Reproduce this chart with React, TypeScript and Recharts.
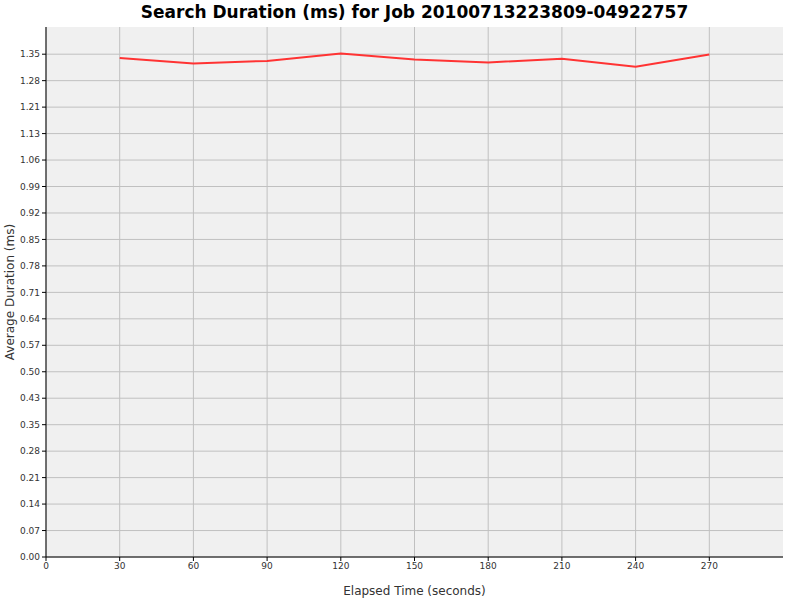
import React from "react";
import { LineChart, Line, XAxis, YAxis, CartesianGrid, Label } from "recharts";

const title = "Search Duration (ms) for Job 20100713223809-04922757";

// elapsed seconds and average search duration (ms)
const elapsed = [30, 60, 90, 120, 150, 180, 210, 240, 270];
const duration = [1.340, 1.325, 1.332, 1.352, 1.336, 1.328, 1.338, 1.316, 1.349];

const xTicks = [0, 30, 60, 90, 120, 150, 180, 210, 240, 270];
const yLabels = [
  "0.00", "0.07", "0.14", "0.21", "0.28", "0.35", "0.43", "0.50", "0.57", "0.64",
  "0.71", "0.78", "0.85", "0.92", "0.99", "1.06", "1.13", "1.21", "1.28", "1.35",
];

const yStep = 1.35 / 19;
const yTicks = yLabels.map((_, i) => i * yStep);

const data = elapsed.map((t, i) => ({ t, d: duration[i] }));

const font = "'DejaVu Sans', sans-serif";

// grid lines only at the tick values, no border on the plot edges
const scaleOf = (axis: any) => (typeof axis?.scale === "function" ? axis.scale : axis?.scale?.map ?? ((v: number) => v));
const hLines = ({ yAxis }: any) => yTicks.map((v) => scaleOf(yAxis)(v));
const vLines = ({ xAxis }: any) => xTicks.map((v) => scaleOf(xAxis)(v));

export default function App() {
  return (
    <div style={{ position: "absolute", left: 0, top: 0, width: 800, height: 600, background: "#fff" }}>
      <div
        style={{
          position: "absolute",
          left: 46,
          width: 737,
          top: 2,
          textAlign: "center",
          fontFamily: font,
          fontWeight: "bold",
          fontSize: 17,
          color: "#000",
        }}
      >
        {title}
      </div>
      <LineChart width={800} height={600} data={data} margin={{ top: 27, right: 17, left: 6, bottom: 0 }}>
        <CartesianGrid
          fill="#f0f0f0"
          stroke="#c0c0c0"
          strokeWidth={1}
          horizontalCoordinatesGenerator={hLines}
          verticalCoordinatesGenerator={vLines}
        />
        <XAxis
          dataKey="t"
          type="number"
          domain={[0, 300]}
          ticks={xTicks}
          height={43}
          axisLine={{ stroke: "#000" }}
          tickLine={{ stroke: "#000" }}
          tickSize={4}
          tickMargin={2}
          tick={{ fill: "#333", fontSize: 9, fontFamily: font }}
        >
          <Label
            value="Elapsed Time (seconds)"
            position="insideBottom"
            offset={5}
            style={{ fill: "#333", fontSize: 12, fontFamily: font }}
          />
        </XAxis>
        <YAxis
          type="number"
          domain={[0, 1.423]}
          ticks={yTicks}
          tickFormatter={(_v: number, i: number) => yLabels[i]}
          width={40}
          axisLine={{ stroke: "#000" }}
          tickLine={{ stroke: "#000" }}
          tickSize={4}
          tickMargin={2}
          tick={{ fill: "#333", fontSize: 9, fontFamily: font }}
        >
          <Label
            value="Average Duration (ms)"
            angle={-90}
            position="insideLeft"
            offset={4}
            style={{ textAnchor: "middle", fill: "#333", fontSize: 12, fontFamily: font }}
          />
        </YAxis>
        <Line
          type="linear"
          dataKey="d"
          stroke="#ff3333"
          strokeWidth={2}
          dot={false}
          isAnimationActive={false}
        />
      </LineChart>
    </div>
  );
}
